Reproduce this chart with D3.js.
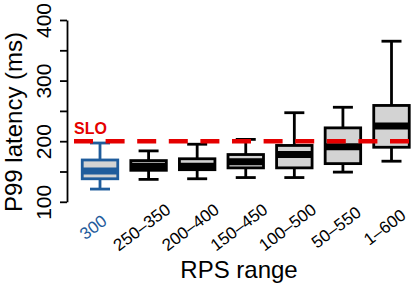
<!DOCTYPE html>
<html>
<head>
<meta charset="utf-8">
<script src="https://cdn.jsdelivr.net/npm/d3@7"></script>
<style>
  html, body { margin: 0; padding: 0; background: #fff; }
  svg { display: block; font-family: "Liberation Sans", Arial, Helvetica, sans-serif; }
</style>
</head>
<body>
<svg id="chart" width="415" height="290"></svg>
<script>
// ---- data ----
const categories   = ["300", "250\u2013350", "200\u2013400", "150\u2013450", "100\u2013500", "50\u2013550", "1\u2013600"];
const whiskerLow   = [121, 137, 138, 140, 140, 149, 167];
const q1Values     = [138, 152, 153, 156, 156, 163, 190];
const medianValues = [151, 158.6, 158.7, 166, 178, 191, 225];
const q3Values     = [169, 168, 171, 178, 193, 222, 259];
const whiskerHigh  = [197, 184, 195, 203, 247, 256, 365];
const sloValue     = 200;
const yTicks       = [100, 150, 200, 250, 300, 350, 400];
const yTickLabels  = [100, 200, 300, 400];
const highlightCategory = "300";

// ---- style ----
const blue = "#1f5c9c", gray = "#d3d3d3", red = "#e50000";

const svg = d3.select("#chart");

const x = d3.scalePoint().domain(categories).range([100, 391.5]);
const y = d3.scaleLinear().domain([100, 400]).range([201.8, 20]);

// y axis
const yAxis = d3.axisLeft(y)
  .tickValues(yTicks)
  .tickSize(7)
  .tickSizeOuter(0)
  .tickFormat(d => yTickLabels.includes(d) ? String(d) : "");

const gy = svg.append("g").attr("transform", "translate(67,0)").call(yAxis);
gy.select(".domain").attr("stroke", "#000").attr("stroke-width", 1.8);
gy.selectAll(".tick line").attr("stroke", "#000").attr("stroke-width", 1.8);
gy.selectAll(".tick text")
  .attr("transform", "rotate(-90)")
  .attr("x", 0).attr("y", -16.5).attr("dy", 0)
  .attr("text-anchor", "middle")
  .attr("fill", "#000")
  .style("font-size", "21px")
  .style("font-family", "'Liberation Sans', Arial, sans-serif");

// boxes
const data = categories.map((c, i) => ({
  cat: c, lo: whiskerLow[i], q1: q1Values[i], med: medianValues[i], q3: q3Values[i], hi: whiskerHigh[i]
}));

const boxW = 35.5, capW = 20, sw = 2.8;
const g = svg.append("g");
const boxes = g.selectAll("g.box").data(data).enter().append("g").attr("class", "box");
const col = d => d.cat === highlightCategory ? blue : "#000";

boxes.append("line")
  .attr("x1", d => x(d.cat)).attr("x2", d => x(d.cat))
  .attr("y1", d => y(d.hi)).attr("y2", d => y(d.q3))
  .attr("stroke", col).attr("stroke-width", sw);
boxes.append("line")
  .attr("x1", d => x(d.cat)).attr("x2", d => x(d.cat))
  .attr("y1", d => y(d.q1)).attr("y2", d => y(d.lo))
  .attr("stroke", col).attr("stroke-width", sw);
boxes.append("line")
  .attr("x1", d => x(d.cat) - capW / 2).attr("x2", d => x(d.cat) + capW / 2)
  .attr("y1", d => y(d.hi)).attr("y2", d => y(d.hi))
  .attr("stroke", col).attr("stroke-width", sw);
boxes.append("line")
  .attr("x1", d => x(d.cat) - capW / 2).attr("x2", d => x(d.cat) + capW / 2)
  .attr("y1", d => y(d.lo)).attr("y2", d => y(d.lo))
  .attr("stroke", col).attr("stroke-width", sw);
boxes.append("rect")
  .attr("x", d => x(d.cat) - boxW / 2).attr("width", boxW)
  .attr("y", d => y(d.q3)).attr("height", d => y(d.q1) - y(d.q3))
  .attr("fill", gray).attr("stroke", col).attr("stroke-width", sw);
boxes.append("line")
  .attr("x1", d => x(d.cat) - boxW / 2).attr("x2", d => x(d.cat) + boxW / 2)
  .attr("y1", d => y(d.med)).attr("y2", d => y(d.med))
  .attr("stroke", col).attr("stroke-width", 7);

// SLO line
svg.append("line")
  .attr("x1", 74).attr("x2", 415)
  .attr("y1", y(sloValue)).attr("y2", y(sloValue))
  .attr("stroke", red).attr("stroke-width", 4.5)
  .attr("stroke-dasharray", "19,12.6");
svg.append("text")
  .attr("x", 74).attr("y", y(sloValue) - 7.3)
  .attr("fill", red).style("font-weight", "bold").style("font-size", "16px")
  .text("SLO");

// x tick labels
svg.append("g").selectAll("text").data(categories).enter().append("text")
  .attr("transform", d => `translate(${x(d) - 7},227) rotate(-37)`)
  .attr("text-anchor", "middle")
  .attr("dy", "0.36em")
  .attr("fill", d => d === highlightCategory ? blue : "#000")
  .style("font-size", "17px")
  .text(d => d);

// axis titles
svg.append("text")
  .attr("transform", "translate(22,122) rotate(-90)")
  .attr("text-anchor", "middle")
  .style("font-size", "24px")
  .text("P99 latency (ms)");
svg.append("text")
  .attr("x", 239).attr("y", 278)
  .attr("text-anchor", "middle")
  .style("font-size", "24px")
  .text("RPS range");
</script>
</body>
</html>
